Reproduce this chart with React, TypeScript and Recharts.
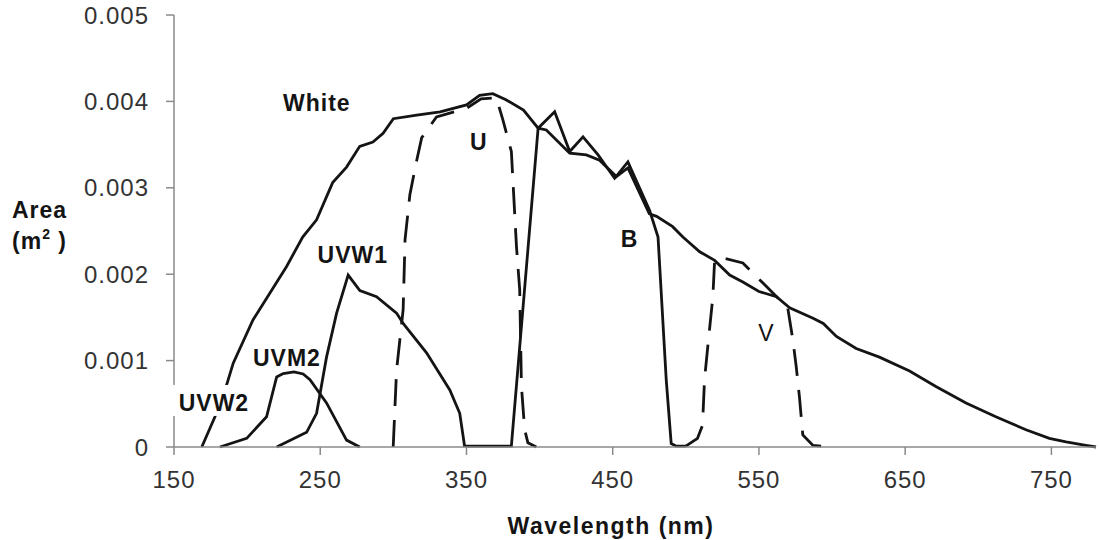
import { Line, LineChart, ReferenceDot, XAxis, YAxis } from 'recharts';

// wavelength (nm) / effective area (m^2)
const WHITE = [
  [169, 0], [178, 0.00035], [186, 0.00072], [190.5, 0.00097], [204, 0.00147],
  [215.5, 0.00178], [227, 0.00209], [238, 0.00243], [247.5, 0.00263], [258.5, 0.00306],
  [268, 0.00324], [277, 0.00348], [286, 0.00353], [293, 0.00363], [300, 0.0038],
  [316, 0.00384], [332, 0.00388], [350, 0.00396], [359, 0.00407], [368, 0.00409],
  [377, 0.00402], [389, 0.0039], [399, 0.00369], [404.6, 0.00367], [420.6, 0.0034],
  [432, 0.00338], [441, 0.00332], [452.5, 0.00313], [460.4, 0.00323], [475, 0.0027],
  [480, 0.00267], [491, 0.00255], [498, 0.00243], [509.5, 0.00226], [519.7, 0.00216],
  [530, 0.00199], [539, 0.00191], [550, 0.0018], [562, 0.00174], [571, 0.00161],
  [587, 0.00149], [594, 0.00143], [603, 0.00128], [616.5, 0.00114], [632.4, 0.00104],
  [653, 0.00088], [671, 0.0007], [691.6, 0.00051], [712, 0.00035], [732.6, 0.0002],
  [748.6, 0.0001], [760, 0.00006], [773.6, 0.00002], [780.5, 0],
];

const UVM2 = [
  [181.4, 0], [199.7, 0.0001], [213.3, 0.00035], [220.2, 0.00081], [224.7, 0.00085],
  [232, 0.00087], [238.3, 0.000845], [243, 0.00078], [254.3, 0.00051], [268, 0.00008],
  [277, 0],
];

const UVW1 = [
  [220.2, 0], [240.7, 0.00017], [247.5, 0.00039], [254.3, 0.00104], [261.2, 0.00155],
  [269.1, 0.00199], [277.1, 0.00181], [288.5, 0.00174], [302.2, 0.00155], [306.7, 0.00143],
  [322.7, 0.00109], [338.6, 0.00066], [345.4, 0.00039], [348.8, 0],
];

const U = [
  [299.9, 0], [302.2, 0.00089], [306.7, 0.00159], [308, 0.0024], [311.3, 0.00292],
  [316, 0.00332], [319.4, 0.00358], [329.5, 0.00382], [350, 0.00392], [360, 0.00403],
  [370.5, 0.00404], [375, 0.00378], [380.7, 0.00342], [384.2, 0.00232], [386.4, 0.00182],
  [387.6, 0.0007], [389.8, 0.0002], [392, 0.00005], [397.8, 0],
];

const B = [
  [349, 0.00001], [380.7, 0.00001], [399, 0.00369], [410.3, 0.00388], [420.6, 0.00342],
  [429.7, 0.00359], [440, 0.00338], [451.3, 0.00311], [460.4, 0.0033], [475.2, 0.00274],
  [481, 0.00243], [486.6, 0.00078], [490, 0.00004], [493.5, 0.00001], [500, 0.00001],
];

const V = [
  [500, 0.00001], [508, 0.0001], [511.4, 0.00025], [512.8, 0.00078], [515, 0.00116],
  [518.5, 0.00174], [519.7, 0.00216], [525, 0.00219], [539, 0.00213], [555, 0.00186],
  [569.7, 0.00161], [573.2, 0.00124], [575.5, 0.00093], [577.7, 0.00058], [580, 0.00014],
  [586.8, 0.00002], [598, 0],
];

const X_TICKS = [150, 250, 350, 450, 550, 650, 750];
const Y_TICKS = [0, 0.001, 0.002, 0.003, 0.004, 0.005];

const CURVE_LABELS = [
  { text: 'White', nm: 247.7, area: 0.00399, bold: true },
  { text: 'U', nm: 358.4, area: 0.00353, bold: true },
  { text: 'B', nm: 461.6, area: 0.00241, bold: true },
  { text: 'V', nm: 555.2, area: 0.00132, bold: false },
  { text: 'UVW1', nm: 272.3, area: 0.00222, bold: true },
  { text: 'UVM2', nm: 227.2, area: 0.00103, bold: true },
  { text: 'UVW2', nm: 177.3, area: 0.00051, bold: true, boxed: true },
];

const FONT = '"Liberation Sans", Arial, sans-serif';
const INK = '#141414';

const toPoints = (rows: number[][]) => rows.map(([nm, area]) => ({ nm, area }));

const SERIES = [
  { name: 'White', rows: WHITE, dashed: false },
  { name: 'UVM2', rows: UVM2, dashed: false },
  { name: 'UVW1', rows: UVW1, dashed: false },
  { name: 'U', rows: U, dashed: true },
  { name: 'B', rows: B, dashed: false },
  { name: 'V', rows: V, dashed: true },
];

function yTitle() {
  return (
    <g fontFamily={FONT} fontWeight="bold" fontSize={23} fill={INK} letterSpacing={1}>
      <text x={12} y={218}>Area</text>
      <text x={12} y={249}>
        (m<tspan fontSize={14} dy={-10}>2</tspan>
        <tspan dy={10}> )</tspan>
      </text>
    </g>
  );
}

export default function App() {
  return (
    <div style={{ position: 'absolute', left: 0, top: 0, width: 1099, height: 540, background: '#fff' }}>
      <LineChart width={1099} height={540} margin={{ top: 15, right: 3, bottom: 0, left: 0 }}>
        <XAxis
          dataKey="nm"
          type="number"
          domain={[150, 780]}
          ticks={X_TICKS}
          height={93}
          stroke="#8a8a8a"
          strokeWidth={1.5}
          tickSize={8}
          tickMargin={16}
          tick={{ fontSize: 24, fontFamily: FONT, fill: '#333', letterSpacing: 1 }}
          allowDuplicatedCategory={false}
          label={{
            value: 'Wavelength (nm)',
            position: 'insideBottom',
            offset: 6,
            dx: -24,
            style: { fontSize: 23, fontWeight: 'bold', fontFamily: FONT, fill: INK, letterSpacing: 1.5 },
          }}
        />
        <YAxis
          type="number"
          domain={[0, 0.005]}
          ticks={Y_TICKS}
          width={174}
          stroke="#8a8a8a"
          strokeWidth={1.5}
          tickSize={8}
          tickMargin={17}
          tickFormatter={(v: number) => (v === 0 ? '0' : v.toFixed(3))}
          tick={{ fontSize: 24, fontFamily: FONT, fill: '#333', letterSpacing: 1 }}
          label={{ content: yTitle }}
        />
        {SERIES.map((s) => (
          <Line
            key={s.name}
            data={toPoints(s.rows)}
            dataKey="area"
            name={s.name}
            type="linear"
            stroke={INK}
            strokeWidth={2.8}
            strokeDasharray={s.dashed ? '27 14' : undefined}
            dot={false}
            activeDot={false}
            isAnimationActive={false}
          />
        ))}
        {CURVE_LABELS.map((l) => (
          <ReferenceDot
            key={l.text}
            x={l.nm}
            y={l.area}
            r={0}
            ifOverflow="visible"
            shape={(p: { cx?: number; cy?: number }) => {
              const cx = p.cx ?? 0;
              const cy = p.cy ?? 0;
              return (
                <g>
                  {l.boxed && <rect x={cx - 45} y={cy - 18} width={86} height={31} fill="#fff" />}
                  <text
                    x={cx}
                    y={cy}
                    dy="0.36em"
                    textAnchor="middle"
                    fontFamily={FONT}
                    fontSize={23}
                    fontWeight={l.bold ? 'bold' : 'normal'}
                    letterSpacing={1}
                    fill={INK}
                  >
                    {l.text}
                  </text>
                </g>
              );
            }}
          />
        ))}
      </LineChart>
    </div>
  );
}
